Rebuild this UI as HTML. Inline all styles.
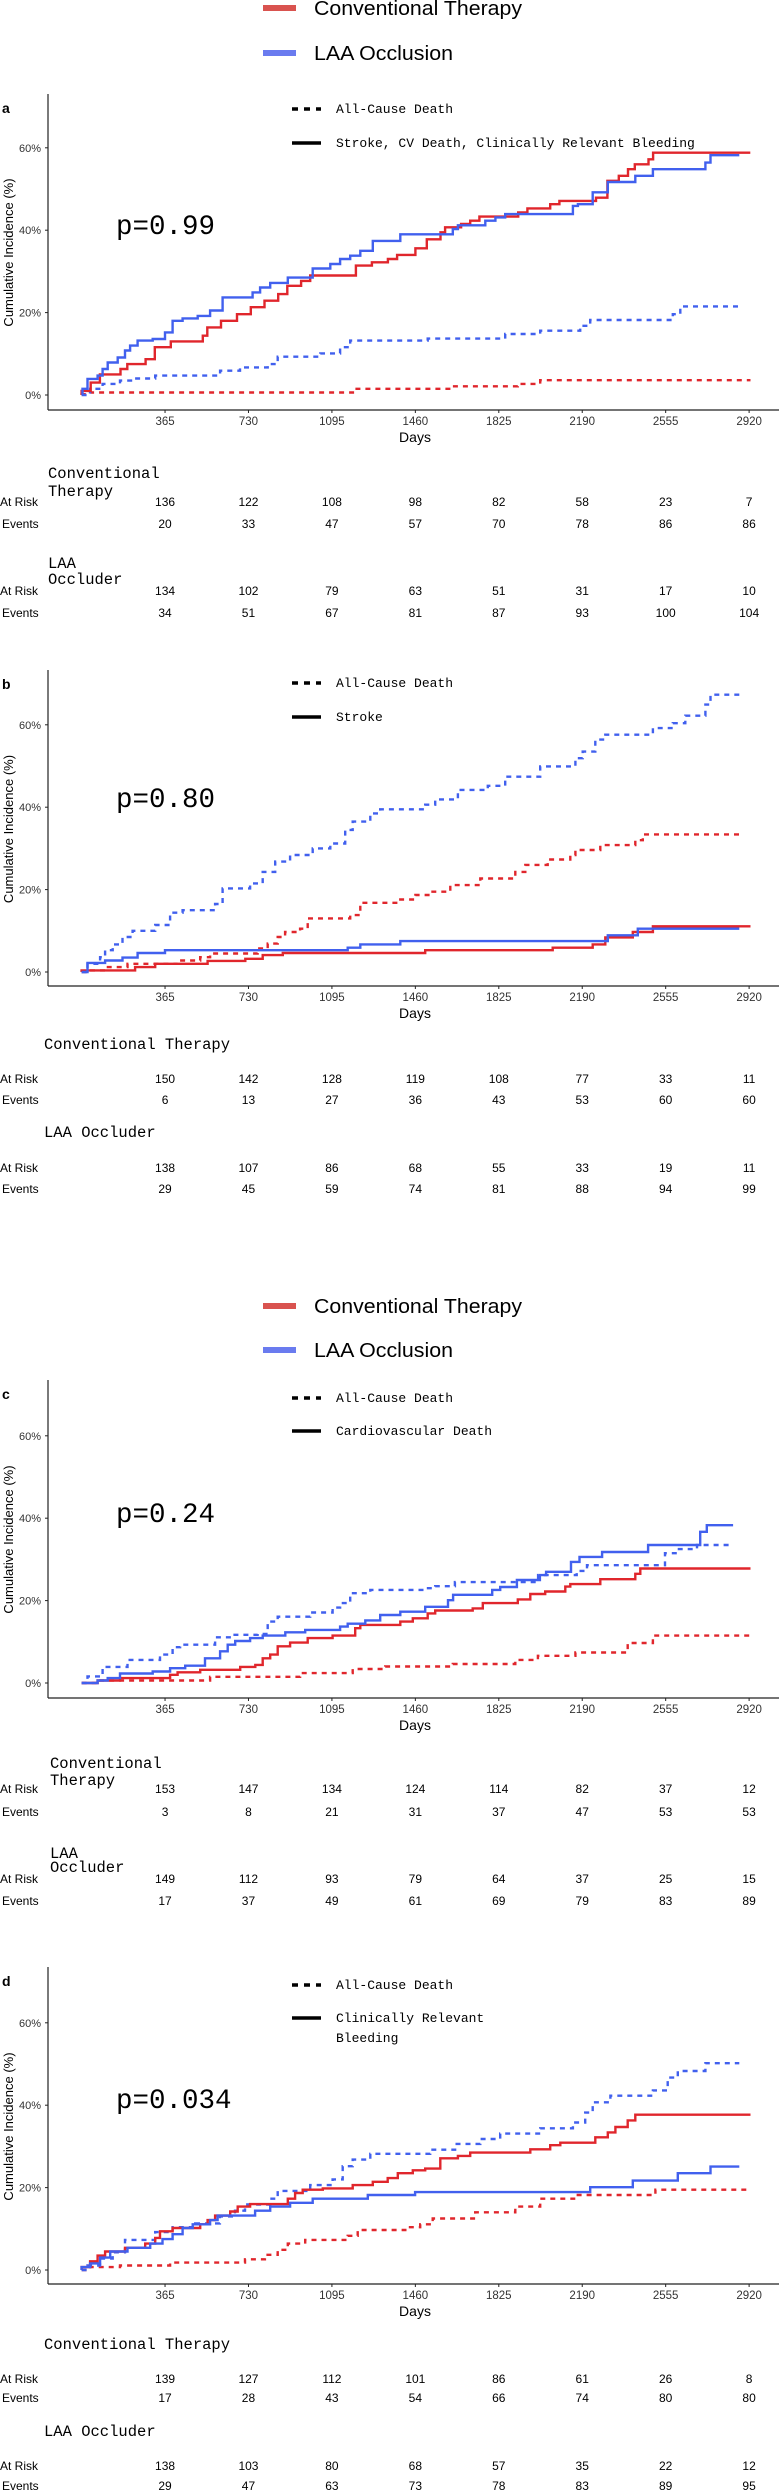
<!DOCTYPE html>
<html><head><meta charset="utf-8">
<style>
html,body{margin:0;padding:0;background:#fff;}
svg{display:block;}
.mono{font-family:"Liberation Mono",monospace;}
.sans{font-family:"Liberation Sans",sans-serif;}
</style></head>
<body>
<svg id="fig" xmlns="http://www.w3.org/2000/svg" width="779" height="2492" viewBox="0 0 779 2492"></svg>
<script>
// ---- data ----
const dayTicks = [365,730,1095,1460,1825,2190,2555,2920];
const pctTicks = [0,20,40,60];
const panelLetters = ['a','b','c','d'];
const pValues = ['p=0.99','p=0.80','p=0.24','p=0.034'];
const endpointLabels = [['Stroke, CV Death, Clinically Relevant Bleeding'],['Stroke'],['Cardiovascular Death'],['Clinically Relevant','Bleeding']];

// panel a
const aRedSolidDays = [0,40,80,170,200,280,320,390,530,550,610,680,740,800,860,900,960,1000,1200,1270,1340,1380,1460,1510,1570,1590,1660,1700,1740,1910,1950,2050,2090,2250,2300,2350,2390,2420,2480,2500,2925];
const aRedSolidPct = [1,3,5,6.3,7.5,8.7,11.6,13,14.4,16.4,18,19.6,21.3,22.9,24.5,26.5,27.7,29,31.4,32.2,33,34,35.6,37.8,39.5,40.7,41.5,42.3,43.3,44.3,45.3,46.3,47.1,47.9,52,53.2,54.8,56,57.2,58.8,58.8];
const aBlueSolidDays = [4,26,70,92,114,158,190,212,245,311,365,398,442,508,562,617,748,781,825,902,1011,1088,1131,1175,1219,1274,1394,1624,1646,1766,1810,1853,2149,2171,2236,2302,2422,2499,2729,2751,2877];
const aBlueSolidPct = [1.5,3.9,4.7,6.3,7.9,9.1,10.8,12,13.2,13.6,15.2,18,18.6,19.2,20.5,23.7,24.9,26.1,27.2,28.5,30.7,31.8,33,33.8,35,37.4,39,40.3,41.2,42.3,43.1,43.9,45.9,46.3,49.2,51.7,53.2,54.8,56.4,58.2,58.2];
const aRedDashDays = [0,37,1197,1624,1908,2006,2926];
const aRedDashPct = [0.2,0.6,1.5,2.1,2.7,3.6,3.6];
const aBlueDashDays = [0,37,92,168,223,322,606,693,814,858,1044,1131,1175,1514,1853,2006,2181,2225,2586,2619,2877];
const aBlueDashPct = [0,1.5,2.7,3.5,4,4.7,5.9,6.7,7.5,9.3,10.1,11.6,13.2,13.7,14.8,15.6,16.8,18.2,19.6,21.5,21.5];
// panel b
const bRedSolidDays = [0,234,322,551,716,792,880,1503,2061,2236,2291,2411,2499,2926];
const bRedSolidPct = [0.4,1.2,2,2.7,3.2,4.1,4.6,5.3,5.9,6.7,8.4,9.7,11.1,11.1];
const bBlueSolidDays = [0,26,103,179,245,365,1164,1219,1394,2302,2433,2877];
const bBlueSolidPct = [0,2.2,2.8,3.5,4.6,5.3,5.9,6.7,7.5,8.9,10.5,10.5];
const bRedDashDays = [0,26,103,201,420,519,562,770,814,858,890,956,989,1175,1219,1394,1460,1525,1613,1744,1897,1941,2039,2138,2160,2269,2422,2455,2891];
const bRedDashPct = [0,0.4,1.2,2,2.8,3.6,4.5,5.7,6.9,8.5,9.7,10.5,13,13.8,16.8,17.6,18.7,19.5,21.1,22.7,24.3,26,27.3,28.4,29.6,30.8,32,33.4,33.4];
const bBlueDashDays = [0,26,81,103,136,179,223,322,387,442,584,617,737,792,847,912,1011,1088,1153,1186,1263,1306,1503,1547,1646,1777,1853,2006,2160,2192,2247,2291,2499,2586,2641,2729,2751,2877];
const bBlueDashPct = [0,2,3.6,5.3,6.7,8.5,10,11.4,14.4,15,16.5,20.3,21.5,24.3,26.8,28.4,30,31.2,34.5,36.5,38.5,39.5,40.6,41.9,44.2,45.2,47.4,49.9,51.9,53.5,56.4,57.6,59.2,60.4,62.2,64.9,67.3,67.3];
// panel c
const cRedSolidDays = [0,70,168,387,420,519,694,760,792,825,858,912,989,1098,1197,1219,1394,1449,1514,1547,1711,1755,1908,1963,2028,2116,2138,2269,2422,2444,2926];
const cRedSolidPct = [0,0.6,1.2,2,2.6,3.2,3.9,4.4,6,6.9,8.9,9.8,10.9,11.5,13.3,14.1,14.9,15.7,16.9,17.6,18.1,19.4,20.3,21.6,22.2,23.4,24,25.2,26.5,27.8,27.8];
const cBlueSolidDays = [0,70,114,168,311,387,453,540,606,639,672,737,792,891,978,1131,1164,1241,1306,1394,1503,1603,1625,1796,1831,1904,2005,2032,2141,2178,2277,2478,2706,2735,2850];
const cBlueSolidPct = [0,0.6,1.2,2.3,2.8,3.6,4.2,6,7.7,9.3,10.2,10.9,11.5,12.3,12.9,13.7,14.4,15.2,16.5,17.3,18.5,20.1,21.4,22.6,23.3,25,26.2,27,29.4,30.6,31.8,33.5,36.7,38.3,38.3];
const cRedDashDays = [0,70,562,956,1186,1328,1624,1897,1996,2160,2389,2499,2926];
const cRedDashPct = [0,0.6,1.5,2.4,3.4,4,4.6,5.6,6.6,7.4,9.7,11.5,11.5];
const cBlueDashDays = [0,26,92,201,343,398,431,584,660,770,814,858,1000,1098,1131,1175,1263,1503,1547,1633,1997,2166,2211,2552,2605,2692,2836];
const cBlueDashPct = [0,1.6,3.9,5.6,6.9,8.7,9.3,11.1,11.7,11.9,14.9,16.1,17.1,18.3,19.4,21.8,22.6,23,23.5,24.5,26.2,27.2,28.6,31.5,32.5,33.5,33.5];
// panel d
const dRedSolidDays = [0,37,70,103,190,278,322,343,398,519,551,584,650,683,737,902,934,967,1055,1186,1274,1339,1383,1449,1503,1569,1646,1700,1963,2050,2094,2247,2302,2335,2389,2422,2926];
const dRedSolidPct = [0.7,2.1,3.5,4.5,5.4,6.4,7.8,9.4,10.2,11.1,12.1,13.2,14.2,15.4,16,17.3,18.7,19.5,19.8,20.6,21.4,22.3,23.5,24.2,24.6,27.1,27.7,28.5,29.3,30.3,30.9,32.2,33.4,34.7,36.3,37.7,37.7];
const dBlueSolidDays = [0,37,81,125,201,300,354,398,442,486,562,595,759,825,912,1011,1252,1459,2225,2411,2608,2751,2877];
const dBlueSolidPct = [0.7,1.6,3,4.5,5.4,6.4,7.5,8.7,10.2,11.1,12.1,13.2,14.4,15.4,16.3,17.3,18.2,18.9,20.1,21.7,23.5,25.1,25.1];
const dRedDashDays = [0,37,168,387,715,802,858,902,978,1164,1208,1416,1481,1536,1722,1897,2006,2160,2510,2926];
const dRedDashPct = [0,0.7,1.1,1.8,2.6,3.7,4.9,6.4,7.3,8.3,9.7,10.4,11.1,12.5,14,15.4,17.3,18.2,19.5,19.5];
const dBlueDashDays = [0,26,81,136,190,322,398,497,605,671,715,825,858,1000,1098,1142,1186,1263,1525,1634,1744,1831,2006,2149,2203,2236,2313,2499,2564,2608,2729,2877];
const dBlueDashPct = [0,1.1,2.8,4.3,7.3,9.2,10.4,11.3,13,14.4,15.9,17.3,19.2,20.6,22,25.2,26.8,28.2,29.2,30.6,31.8,33.1,34.4,35.8,38.2,40.7,42.3,43.6,46.7,48.3,50.2,50.2];

// at-risk tables
const aConvRisk=[136,122,108,98,82,58,23,7], aConvEv=[20,33,47,57,70,78,86,86];
const aLaaRisk=[134,102,79,63,51,31,17,10], aLaaEv=[34,51,67,81,87,93,100,104];
const bConvRisk=[150,142,128,119,108,77,33,11], bConvEv=[6,13,27,36,43,53,60,60];
const bLaaRisk=[138,107,86,68,55,33,19,11], bLaaEv=[29,45,59,74,81,88,94,99];
const cConvRisk=[153,147,134,124,114,82,37,12], cConvEv=[3,8,21,31,37,47,53,53];
const cLaaRisk=[149,112,93,79,64,37,25,15], cLaaEv=[17,37,49,61,69,79,83,89];
const dConvRisk=[139,127,112,101,86,61,26,8], dConvEv=[17,28,43,54,66,74,80,80];
const dLaaRisk=[138,103,80,68,57,35,22,12], dLaaEv=[29,47,63,73,78,83,89,95];

// ---- layout ----
const NS='http://www.w3.org/2000/svg';
const svg=document.getElementById('fig');
const RED='#e0262c', BLUE='#4160ee';
function xScale(d){return 81.6+d*0.2286;}
function mk(tag,attrs,parent){const e=document.createElementNS(NS,tag);for(const k in attrs)e.setAttribute(k,attrs[k]);(parent||svg).appendChild(e);return e;}
function txt(s,attrs,parent){const e=mk('text',attrs,parent);e.textContent=s;return e;}

const panels=[
 {zero:395,top:94,bottom:410,curves:[[aRedDashDays,aRedDashPct,RED,1],[aBlueDashDays,aBlueDashPct,BLUE,1],[aRedSolidDays,aRedSolidPct,RED,0],[aBlueSolidDays,aBlueSolidPct,BLUE,0]],
  leg:[109,143],py:225,tables:{hdrX:48,conv:['Conventional','Therapy'],convY:[473,491],laa:['LAA','Occluder'],laaY:[563,579],rows:[[502,524],[591,613]]},data:[aConvRisk,aConvEv,aLaaRisk,aLaaEv]},
 {zero:972,top:670,bottom:986,curves:[[bRedDashDays,bRedDashPct,RED,1],[bBlueDashDays,bBlueDashPct,BLUE,1],[bRedSolidDays,bRedSolidPct,RED,0],[bBlueSolidDays,bBlueSolidPct,BLUE,0]],
  leg:[683,717],py:798,tables:{hdrX:44,conv:['Conventional Therapy'],convY:[1044],laa:['LAA Occluder'],laaY:[1132],rows:[[1079,1100],[1168,1189]]},data:[bConvRisk,bConvEv,bLaaRisk,bLaaEv]},
 {zero:1683,top:1380,bottom:1698,curves:[[cRedDashDays,cRedDashPct,RED,1],[cBlueDashDays,cBlueDashPct,BLUE,1],[cRedSolidDays,cRedSolidPct,RED,0],[cBlueSolidDays,cBlueSolidPct,BLUE,0]],
  leg:[1398,1431],py:1513,tables:{hdrX:50,conv:['Conventional','Therapy'],convY:[1763,1780],laa:['LAA','Occluder'],laaY:[1853,1867],rows:[[1789,1812],[1879,1901]]},data:[cConvRisk,cConvEv,cLaaRisk,cLaaEv]},
 {zero:2270,top:1967,bottom:2284,curves:[[dRedDashDays,dRedDashPct,RED,1],[dBlueDashDays,dBlueDashPct,BLUE,1],[dRedSolidDays,dRedSolidPct,RED,0],[dBlueSolidDays,dBlueSolidPct,BLUE,0]],
  leg:[1985,2018],py:2099,tables:{hdrX:44,conv:['Conventional Therapy'],convY:[2344],laa:['LAA Occluder'],laaY:[2431],rows:[[2379,2398],[2466,2486]]},data:[dConvRisk,dConvEv,dLaaRisk,dLaaEv]}
];
const PX_PER_PCT=4.12;

// group legends
function groupLegend(y1,y2,idx){
  const g=mk('g',{});
  
  
  const r=mk('rect',{x:263,y:y1-3,width:33,height:6,fill:'#d9534f'},g);
  
  
  const t1=txt('Conventional Therapy',{x:314,y:y1+7,'font-size':20,'class':'sans',textLength:208,lengthAdjust:'spacingAndGlyphs',fill:'#000'},g);
  
  
  const r2=mk('rect',{x:263,y:y2-3,width:33,height:6,fill:'#6a7bef'},g);
  
  
  const t2=txt('LAA Occlusion',{x:314,y:y2+7,'font-size':20,'class':'sans',textLength:139,lengthAdjust:'spacingAndGlyphs',fill:'#000'},g);
  
  
}
groupLegend(8,53,'top');
groupLegend(1306,1350,'middle');

panels.forEach((p,i)=>{
  const g=mk('g',{});
  
  
  const yS=v=>p.zero-v*PX_PER_PCT;
  // letter
  const L=txt(panelLetters[i],{x:2,y:p.top+19,'font-size':14,'font-weight':'bold','class':'sans'},g);
  
  
  // axes
  const ya=mk('line',{x1:48,y1:p.top,x2:48,y2:p.bottom,stroke:'#222','stroke-width':1.2},g);
  
  
  const xa=mk('line',{x1:48,y1:p.bottom,x2:779,y2:p.bottom,stroke:'#222','stroke-width':1.2},g);
  
  
  pctTicks.forEach(v=>{
    const y=yS(v);
    const tk=mk('line',{x1:45,y1:y,x2:48,y2:y,stroke:'#222'},g);
    
    
    const tl=txt(v+'%',{x:41,y:y+4,'font-size':11,'text-anchor':'end','class':'sans',fill:'#333'},g);
    
    
  });
  dayTicks.forEach(d=>{
    const x=xScale(d);
    const tk=mk('line',{x1:x,y1:p.bottom,x2:x,y2:p.bottom+3,stroke:'#222'},g);
    
    
    const tl=txt(String(d),{x:x,y:p.bottom+15,'font-size':11.5,'text-anchor':'middle','class':'sans',fill:'#333'},g);
    
    
  });
  const xt=txt('Days',{x:415,y:p.bottom+32,'font-size':14,'text-anchor':'middle','class':'sans'},g);
  
  
  const yc=(p.top+p.zero)/2+8;
  const yt=txt('Cumulative Incidence (%)',{x:0,y:0,'font-size':13,'text-anchor':'middle','class':'sans',transform:`translate(13,${yc}) rotate(-90)`},g);
  
  
  // curves
  p.curves.forEach((c,ci)=>{
    const [days,pct,col,dash]=c;
    let dstr=`M${xScale(days[0]).toFixed(1)},${yS(0).toFixed(1)} V${yS(pct[0]).toFixed(1)}`;
    for(let k=1;k<days.length;k++){dstr+=` H${xScale(days[k]).toFixed(1)} V${yS(pct[k]).toFixed(1)}`;}
    const path=mk('path',{d:dstr,fill:'none',stroke:col,'stroke-width':2.4,'stroke-dasharray':dash?'5,5':'none'},g);
    
    
  });
  // inner legend
  const l1=mk('line',{x1:292,y1:p.leg[0],x2:321,y2:p.leg[0],stroke:'#000','stroke-width':3.5,'stroke-dasharray':'6,6'},g);
  
  
  const lt1=txt('All-Cause Death',{x:336,y:p.leg[0]+4,'font-size':13,'class':'mono'},g);
  
  
  const l2=mk('line',{x1:292,y1:p.leg[1],x2:321,y2:p.leg[1],stroke:'#000','stroke-width':3.5},g);
  
  
  endpointLabels[i].forEach((s,k)=>{
    const lt=txt(s,{x:336,y:p.leg[1]+4+k*20,'font-size':13,'class':'mono'},g);
    
    
  });
  const pv=txt(pValues[i],{x:116,y:p.py+9,'font-size':27.5,'class':'mono'},g);
  
  
  // tables
  const T=p.tables;
  T.conv.forEach((s,k)=>{
    const h=txt(s,{x:T.hdrX,y:T.convY[k]+5,'font-size':15.5,'class':'mono'},g);
    
    
  });
  T.laa.forEach((s,k)=>{
    const h=txt(s,{x:T.hdrX,y:T.laaY[k]+5,'font-size':15.5,'class':'mono'},g);
    
    
  });
  const rowsData=[[p.data[0],p.data[1]],[p.data[2],p.data[3]]];
  T.rows.forEach((ys,gi)=>{
    ['At Risk','Events'].forEach((lab,ri)=>{
      const y=ys[ri]+4;
      const rl=txt(lab,{x:ri?2:0,y:y,'font-size':12,'class':'sans'},g);
      
      
      rowsData[gi][ri].forEach((v,k)=>{
        const c=txt(String(v),{x:xScale(dayTicks[k]),y:y,'font-size':12,'text-anchor':'middle','class':'sans'},g);
        
        
      });
    });
  });
});
</script>
</body></html>
